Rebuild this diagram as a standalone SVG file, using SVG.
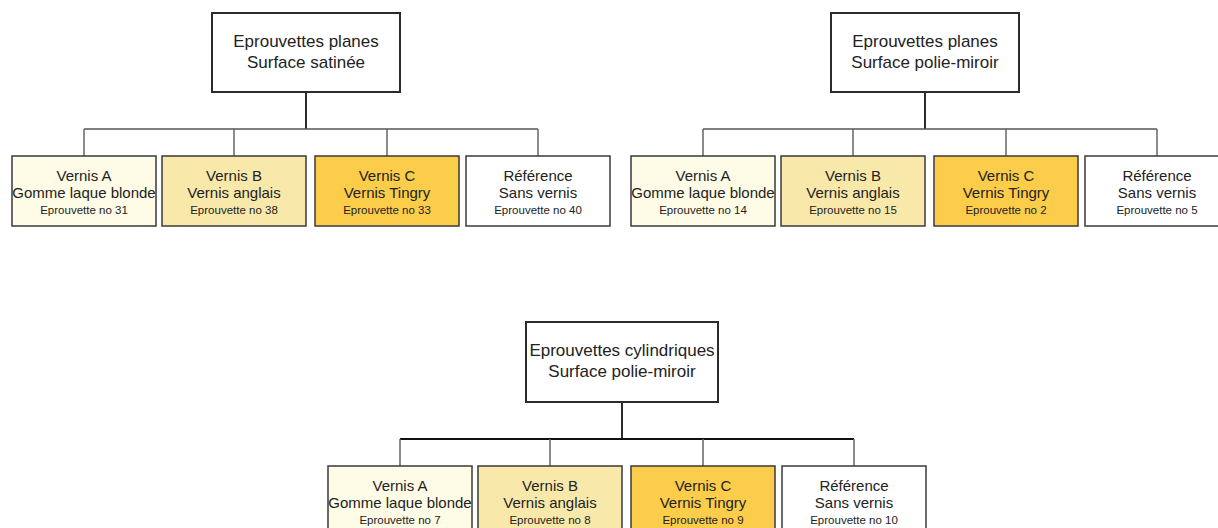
<svg xmlns="http://www.w3.org/2000/svg" width="1218" height="528" viewBox="0 0 1218 528">
<style>
.bg{fill:#ffffff}
.top{fill:#ffffff;stroke:#2b2b2b;stroke-width:2}
.ch{stroke:#3a3a3a;stroke-width:1.5}
.a{fill:#fefbe6}
.b{fill:#f8e9aa}
.c{fill:#fccd4a}
.d{fill:#ffffff}
.t{font-family:"Liberation Sans",Arial,sans-serif;fill:#222;text-anchor:middle}
.t1{font-size:17px}
.t2{font-size:15px}
.t3{font-size:11.5px}
.stem{stroke:#2b2b2b;stroke-width:2;fill:none}
.bar{stroke:#555;stroke-width:1.5;fill:none}
.bar3{stroke:#111;stroke-width:2;fill:none}
.drop{stroke:#666;stroke-width:1.5;fill:none}
</style>
<rect class="bg" x="0" y="0" width="1218" height="528"/>
<g id="connectors">
  <path class="stem" d="M306 92V129"/>
  <path class="bar" d="M84 129H538"/>
  <path class="drop" d="M84 129V156M234 129V156M387 129V156M538 129V156"/>
  <path class="stem" d="M925 92V129"/>
  <path class="bar" d="M703 129H1157"/>
  <path class="drop" d="M703 129V156M853 129V156M1006 129V156M1157 129V156"/>
  <path class="stem" d="M622 402V439"/>
  <path class="bar3" d="M400 439H854"/>
  <path class="drop" d="M400 439V466M550 439V466M703 439V466M854 439V466"/>
</g>
<g id="p1-top"><rect class="top" x="212" y="13" width="188" height="79"/><text class="t t1" x="306" y="47">Eprouvettes planes</text><text class="t t1" x="306" y="68">Surface satinée</text></g>
<g id="p1-a"><rect class="ch a" x="12" y="156" width="144" height="70"/><text class="t t2" x="84" y="181">Vernis A</text><text class="t t2" x="84" y="198">Gomme laque blonde</text><text class="t t3" x="84" y="214">Eprouvette no 31</text></g>
<g id="p1-b"><rect class="ch b" x="162" y="156" width="144" height="70"/><text class="t t2" x="234" y="181">Vernis B</text><text class="t t2" x="234" y="198">Vernis anglais</text><text class="t t3" x="234" y="214">Eprouvette no 38</text></g>
<g id="p1-c"><rect class="ch c" x="315" y="156" width="144" height="70"/><text class="t t2" x="387" y="181">Vernis C</text><text class="t t2" x="387" y="198">Vernis Tingry</text><text class="t t3" x="387" y="214">Eprouvette no 33</text></g>
<g id="p1-d"><rect class="ch d" x="466" y="156" width="144" height="70"/><text class="t t2" x="538" y="181">Référence</text><text class="t t2" x="538" y="198">Sans vernis</text><text class="t t3" x="538" y="214">Eprouvette no 40</text></g>

<g id="p2-top"><rect class="top" x="831" y="13" width="188" height="79"/><text class="t t1" x="925" y="47">Eprouvettes planes</text><text class="t t1" x="925" y="68">Surface polie-miroir</text></g>
<g id="p2-a"><rect class="ch a" x="631" y="156" width="144" height="70"/><text class="t t2" x="703" y="181">Vernis A</text><text class="t t2" x="703" y="198">Gomme laque blonde</text><text class="t t3" x="703" y="214">Eprouvette no 14</text></g>
<g id="p2-b"><rect class="ch b" x="781" y="156" width="144" height="70"/><text class="t t2" x="853" y="181">Vernis B</text><text class="t t2" x="853" y="198">Vernis anglais</text><text class="t t3" x="853" y="214">Eprouvette no 15</text></g>
<g id="p2-c"><rect class="ch c" x="934" y="156" width="144" height="70"/><text class="t t2" x="1006" y="181">Vernis C</text><text class="t t2" x="1006" y="198">Vernis Tingry</text><text class="t t3" x="1006" y="214">Eprouvette no 2</text></g>
<g id="p2-d"><rect class="ch d" x="1085" y="156" width="144" height="70"/><text class="t t2" x="1157" y="181">Référence</text><text class="t t2" x="1157" y="198">Sans vernis</text><text class="t t3" x="1157" y="214">Eprouvette no 5</text></g>

<g id="p3-top"><rect class="top" x="526" y="322" width="192" height="80"/><text class="t t1" x="622" y="356">Eprouvettes cylindriques</text><text class="t t1" x="622" y="377">Surface polie-miroir</text></g>
<g id="p3-a"><rect class="ch a" x="328" y="466" width="144" height="70"/><text class="t t2" x="400" y="491">Vernis A</text><text class="t t2" x="400" y="508">Gomme laque blonde</text><text class="t t3" x="400" y="524">Eprouvette no 7</text></g>
<g id="p3-b"><rect class="ch b" x="478" y="466" width="144" height="70"/><text class="t t2" x="550" y="491">Vernis B</text><text class="t t2" x="550" y="508">Vernis anglais</text><text class="t t3" x="550" y="524">Eprouvette no 8</text></g>
<g id="p3-c"><rect class="ch c" x="631" y="466" width="144" height="70"/><text class="t t2" x="703" y="491">Vernis C</text><text class="t t2" x="703" y="508">Vernis Tingry</text><text class="t t3" x="703" y="524">Eprouvette no 9</text></g>
<g id="p3-d"><rect class="ch d" x="782" y="466" width="144" height="70"/><text class="t t2" x="854" y="491">Référence</text><text class="t t2" x="854" y="508">Sans vernis</text><text class="t t3" x="854" y="524">Eprouvette no 10</text></g>
</svg>
